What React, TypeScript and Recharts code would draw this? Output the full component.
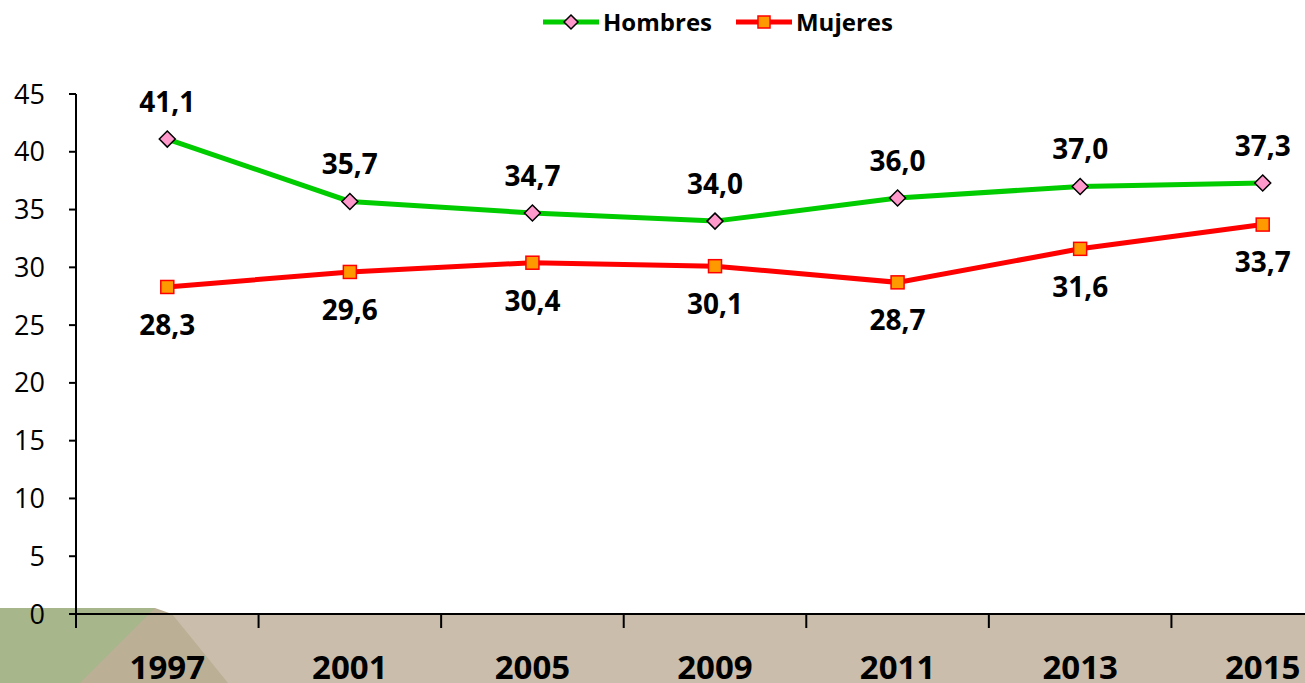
import { LabelList, Line, LineChart, XAxis, YAxis } from 'recharts'

const years = ['1997', '2001', '2005', '2009', '2011', '2013', '2015']
const hombres = [41.1, 35.7, 34.7, 34.0, 36.0, 37.0, 37.3]
const mujeres = [28.3, 29.6, 30.4, 30.1, 28.7, 31.6, 33.7]
const yTicks = [0, 5, 10, 15, 20, 25, 30, 35, 40, 45]

const data = years.map((year, i) => ({ year, hombres: hombres[i], mujeres: mujeres[i] }))

const FONT = '"Open Sans", Carlito, Lato, sans-serif'
const CHART_W = 1354
const CHART_H = 683
const LEFT = 76
const BAND = (CHART_W - LEFT) / years.length

const fmt = (v: any) => Number(v).toFixed(1).replace('.', ',')

const Diamond = (props: any) => {
	const { cx, cy } = props
	if (cx == null || cy == null) return null
	const r = 8
	return (
		<polygon
			points={`${cx},${cy - r} ${cx + r},${cy} ${cx},${cy + r} ${cx - r},${cy}`}
			fill='#FF99CC'
			stroke='#000'
			strokeWidth={1.5}
		/>
	)
}

const Square = (props: any) => {
	const { cx, cy } = props
	if (cx == null || cy == null) return null
	const s = 6.5
	return <rect x={cx - s} y={cy - s} width={s * 2} height={s * 2} fill='#FF9900' stroke='#FF0000' strokeWidth={1.5} />
}

const XTick = (props: any) => {
	const { x, y, payload } = props
	const left = x - BAND / 2
	return (
		<g>
			<line x1={left} y1={y - 8} x2={left} y2={y + 6} stroke='#000' strokeWidth={2} />
			<text x={x} y={y + 57} textAnchor='middle' fontFamily={FONT} fontWeight='bold' fontSize={33} fill='#000'>
				{payload.value}
			</text>
		</g>
	)
}

const labelStyle = { fontFamily: FONT, fontWeight: 'bold', fontSize: 28, fill: '#000' }

const App = () => {
	return (
		<div style={{ position: 'absolute', left: 0, top: 0, width: 1305, height: 683, overflow: 'hidden', background: '#fff' }}>
			<svg width={1305} height={683} style={{ position: 'absolute', left: 0, top: 0 }}>
				<rect x={0} y={614} width={1305} height={69} fill='#CABDAB' />
				<polygon points='0,608 155,608 172,614 228,683 0,683' fill='#BBAF95' />
				<polygon points='0,608 155,608 80,683 0,683' fill='#A7B68B' />
			</svg>

			<div
				style={{
					position: 'absolute',
					top: 5,
					left: 543,
					display: 'flex',
					alignItems: 'center',
					fontFamily: FONT,
					fontWeight: 'bold',
					fontSize: 24,
					color: '#000',
				}}
			>
				<svg width={56} height={30}>
					<line x1={0} y1={15} x2={56} y2={15} stroke='#00CC00' strokeWidth={5} />
					<polygon points='28,8 35,15 28,22 21,15' fill='#FF99CC' stroke='#000' strokeWidth={1.5} />
				</svg>
				<span style={{ marginLeft: 4, marginRight: 24 }}>Hombres</span>
				<svg width={56} height={30}>
					<line x1={0} y1={15} x2={56} y2={15} stroke='#FF0000' strokeWidth={5} />
					<rect x={22} y={9} width={12} height={12} fill='#FF9900' stroke='#FF0000' strokeWidth={1.5} />
				</svg>
				<span style={{ marginLeft: 4 }}>Mujeres</span>
			</div>

			<div style={{ position: 'absolute', left: 0, top: 0 }}>
				<LineChart width={CHART_W} height={CHART_H} data={data} margin={{ top: 94, right: 0, left: 0, bottom: 0 }}>
					<XAxis
						dataKey='year'
						height={69}
						padding={{ left: BAND / 2, right: BAND / 2 }}
						axisLine={{ stroke: '#000', strokeWidth: 2 }}
						tickLine={false}
						tick={<XTick />}
						interval={0}
					/>
					<YAxis
						width={LEFT}
						domain={[0, 45]}
						ticks={yTicks}
						interval={0}
						axisLine={{ stroke: '#000', strokeWidth: 2 }}
						tickLine={{ stroke: '#000', strokeWidth: 2 }}
						tickSize={7}
						tickMargin={24}
						tick={{ fill: '#000', fontSize: 27, fontFamily: FONT }}
					/>
					<Line dataKey='hombres' stroke='#00CC00' strokeWidth={5} dot={<Diamond />} isAnimationActive={false}>
						<LabelList dataKey='hombres' position='top' offset={27} formatter={fmt} style={labelStyle} />
					</Line>
					<Line dataKey='mujeres' stroke='#FF0000' strokeWidth={5} dot={<Square />} isAnimationActive={false}>
						<LabelList dataKey='mujeres' position='bottom' offset={28} formatter={fmt} style={labelStyle} />
					</Line>
				</LineChart>
			</div>
		</div>
	)
}

export default App
